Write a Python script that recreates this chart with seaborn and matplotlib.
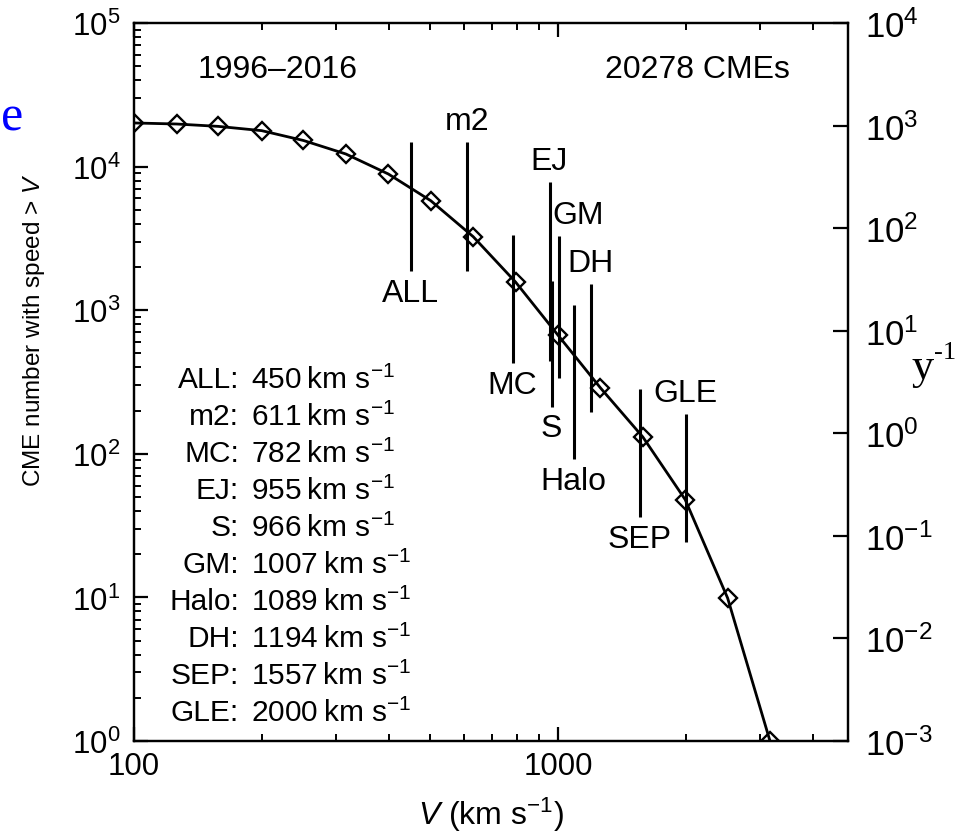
import numpy as np
import pandas as pd
import seaborn as sns
import matplotlib
matplotlib.use("Agg")
import matplotlib.pyplot as plt
from matplotlib import ticker

# ---------------- data ----------------
speed = [100, 126, 158, 200, 251, 316, 398, 501, 631, 794, 1000, 1259, 1585, 1995, 2512, 3162]
counts = [20130, 19800, 19060, 17800, 15200, 12240, 8880, 5790, 3250, 1572, 670, 288, 131, 48, 9.9, 1]

cat_names = ["ALL", "m2", "MC", "EJ", "S", "GM", "Halo", "DH", "SEP", "GLE"]
cat_speeds = [450, 611, 782, 955, 966, 1007, 1089, 1194, 1557, 2000]
cat_tops = [14800, 14800, 3340, 7810, 1597, 3285, 1087, 1522, 283, 189]
cat_bottoms = [1875, 1875, 429, 443, 212, 337, 92, 195, 36.3, 24.3]
cat_label_above = [False, True, False, True, False, True, False, True, False, True]

x_major = [100, 1000]
x_major_labels = ["100", "1000"]
left_decades = [0, 1, 2, 3, 4, 5]
right_decades = [-3, -2, -1, 0, 1, 2, 3, 4]

period_text = "1996\u20132016"
total_text = "20278 CMEs"

# ---------------- style ----------------
sns.set_theme(style="ticks")
plt.rcParams["font.family"] = ["Liberation Sans", "DejaVu Sans"]
plt.rcParams["mathtext.fontset"] = "custom"
plt.rcParams["mathtext.rm"] = "Liberation Sans"
plt.rcParams["mathtext.it"] = "Liberation Sans:italic"
plt.rcParams["mathtext.bf"] = "Liberation Sans:bold"
plt.rcParams["text.color"] = "black"
plt.rcParams["axes.labelcolor"] = "black"
plt.rcParams["xtick.color"] = "black"
plt.rcParams["ytick.color"] = "black"

W, H = 967, 837
fig = plt.figure(figsize=(W / 100, H / 100), dpi=100)
L, R, T, B = 134, 848, 24, 742
ax = fig.add_axes([L / W, 1 - B / H, (R - L) / W, (B - T) / H])
ax.set_xscale("log")
ax.set_yscale("log")
ax.set_xlim(100, 10 ** (2 + (R - L) / 424))
ax.set_ylim(1, 1e5)

df = pd.DataFrame({"V": speed, "N": counts})
sns.lineplot(data=df, x="V", y="N", ax=ax, color="black", lw=2.0,
             marker="D", markersize=9.5, markerfacecolor="none",
             markeredgecolor="black", markeredgewidth=1.7, errorbar=None)

# vertical bars for event classes
ax.vlines(cat_speeds, cat_bottoms, cat_tops, colors="black", lw=2.2)
for name, v, top, bot, above in zip(cat_names, cat_speeds, cat_tops, cat_bottoms, cat_label_above):
    dx = 13.5 if name == "GM" else 0
    if above:
        ax.annotate(name, xy=(v, top), xytext=(dx, 15), textcoords="offset points",
                    ha="center", va="center", fontsize=23)
    else:
        ax.annotate(name, xy=(v, bot), xytext=(dx, -15.5), textcoords="offset points",
                    ha="center", va="center", fontsize=23)

# list of speeds
xcolon = (239 - L) / (R - L)
xval = (251 - L) / (R - L)
for i, (name, v) in enumerate(zip(cat_names, cat_speeds)):
    yc = 380 + i * 37
    ya = (B - yc) / (B - T)
    ax.text(xcolon, ya, f"{name}:", transform=ax.transAxes, ha="right", va="center", fontsize=21.5)
    ax.text(xval, ya, f"{v}\u2009km s$^{{-1}}$", transform=ax.transAxes, ha="left", va="center", fontsize=21.5)

ax.text((278 - L) / (R - L), (B - 70) / (B - T), period_text, transform=ax.transAxes,
        ha="center", va="center", fontsize=23)
ax.text((697 - L) / (R - L), (B - 70) / (B - T), total_text, transform=ax.transAxes,
        ha="center", va="center", fontsize=23)

# axes / ticks
for s in ax.spines.values():
    s.set_linewidth(1.6)
    s.set_color("black")
ax.xaxis.set_major_locator(ticker.FixedLocator(x_major))
ax.xaxis.set_major_formatter(ticker.FixedFormatter(x_major_labels))
ax.xaxis.set_minor_locator(ticker.LogLocator(base=10, subs=np.arange(2, 10), numticks=20))
ax.xaxis.set_minor_formatter(ticker.NullFormatter())
ax.yaxis.set_major_locator(ticker.FixedLocator([10.0 ** d for d in left_decades]))
ax.yaxis.set_major_formatter(ticker.FixedFormatter([f"$10^{{{d}}}$" for d in left_decades]))
ax.yaxis.set_minor_locator(ticker.LogLocator(base=10, subs=np.arange(2, 10), numticks=20))
ax.yaxis.set_minor_formatter(ticker.NullFormatter())
ax.tick_params(axis="both", which="major", direction="in", length=10, width=1.6,
               labelsize=22.5, color="black", labelcolor="black")
ax.tick_params(axis="both", which="minor", direction="in", length=5, width=1.4, color="black")
ax.tick_params(axis="x", which="both", top=True, bottom=True, pad=7)
ax.tick_params(axis="y", which="both", left=True, right=False, pad=10)
ax.set_xlabel("$V$ (km s$^{-1}$)", fontsize=23, labelpad=10)
ax.set_ylabel("CME number with speed > $V$", fontsize=17.5)
ax.yaxis.set_label_coords((34 - L) / (R - L), (B - 330) / (B - T))
ax.yaxis.label.set_va("center")

# right axis (per year)
ax2 = ax.twinx()
ax2.set_yscale("log")
ax2.set_ylim(1e-3, 1e4)
ax2.yaxis.set_major_locator(ticker.FixedLocator([10.0 ** d for d in right_decades]))
ax2.yaxis.set_major_formatter(ticker.FixedFormatter([f"$10^{{{d}}}$" for d in right_decades]))
ax2.yaxis.set_minor_locator(ticker.NullLocator())
ax2.tick_params(axis="y", which="major", direction="in", length=11, width=1.6,
                labelsize=25, pad=12, color="black", labelcolor="black")
for s in ax2.spines.values():
    s.set_linewidth(1.6)
    s.set_color("black")

# stray slide text fragments
fig.text(1 / W, 1 - 118 / H, "e", color="#0000ff", fontsize=36, family="Liberation Serif",
         ha="left", va="center")
fig.text(911 / W, 1 - 368 / H, "y", color="black", fontsize=32, family="Liberation Serif",
         ha="left", va="center")
fig.text(934 / W, 1 - 353 / H, "-1", color="black", fontsize=19, family="Liberation Serif",
         ha="left", va="center")

fig.savefig("out.png", dpi=100, facecolor="white")
